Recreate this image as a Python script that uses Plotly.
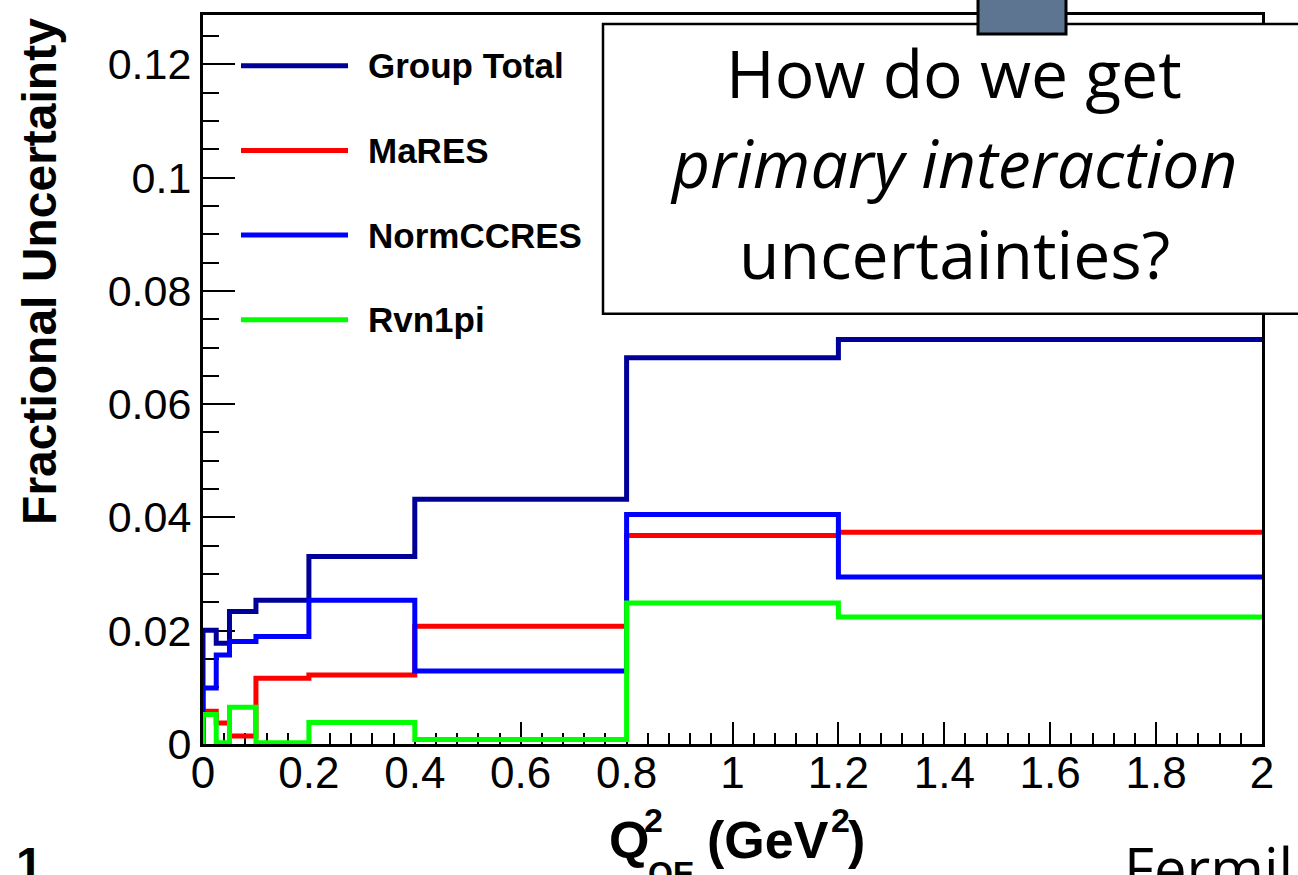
import plotly.graph_objects as go

# ---------------- data ----------------
bin_edges = [0.0, 0.025, 0.05, 0.1, 0.2, 0.4, 0.8, 1.2, 2.0]
group_total = [0.0201, 0.0178, 0.0234, 0.0254, 0.0331, 0.0432, 0.0682, 0.0714]
mares = [0.0058, 0.0037, 0.0014, 0.0116, 0.0122, 0.0208, 0.0368, 0.0374]
normccres = [0.0099, 0.0157, 0.0181, 0.0190, 0.0254, 0.0129, 0.0405, 0.0295]
rvn1pi = [0.0052, 0.0002, 0.0065, 0.0002, 0.0038, 0.0008, 0.0249, 0.0224]

series_names = ["Group Total", "MaRES", "NormCCRES", "Rvn1pi"]
series_values = [group_total, mares, normccres, rvn1pi]
series_colors = ["#000099", "#ff0000", "#0000ff", "#00ff00"]

y_max = 0.1287
x_range = [0, 2]

# ---------------- layout geometry (pixels) ----------------
FIG_W, FIG_H = 1298, 875
M_L, M_R, M_T, M_B = 203, 36, 12, 131
PW = FIG_W - M_L - M_R
PH = FIG_H - M_T - M_B


def PX(x):
    return (x - M_L) / PW


def PY(y):
    return (FIG_H - M_B - y) / PH


FONT = "Liberation Sans, Arial, Helvetica, sans-serif"
SLIDE_FONT = "Open Sans, Noto Sans, sans-serif"

fig = go.Figure()


def step_xy(edges, vals):
    xs = [edges[0]] + list(edges)
    ys = [0.0] + list(vals) + [vals[-1]]
    return xs, ys


for name, vals, col in zip(series_names, series_values, series_colors):
    xs, ys = step_xy(bin_edges, vals)
    fig.add_trace(go.Scatter(x=xs, y=ys, mode="lines", line=dict(shape="hv", color=col, width=5),
                             name=name, showlegend=False, hoverinfo="skip"))

axis_common = dict(
    showline=True, linecolor="black", linewidth=3, mirror=True,
    ticks="inside", tickcolor="black", tickwidth=2,
    showgrid=False, zeroline=False, layer="below traces",
)

fig.update_layout(
    width=FIG_W, height=FIG_H,
    margin=dict(l=M_L, r=M_R, t=M_T, b=M_B, pad=0),
    paper_bgcolor="white", plot_bgcolor="white",
    showlegend=False,
    font=dict(family=FONT, color="black"),
    xaxis=dict(range=x_range, tickmode="linear", tick0=0, dtick=0.2, ticklen=22,
               ticklabelstandoff=-12,
               minor=dict(dtick=0.04, ticklen=11, ticks="inside", tickcolor="black", tickwidth=2),
               tickfont=dict(family=FONT, color="black", size=44), **axis_common),
    yaxis=dict(range=[0, y_max], tickmode="linear", tick0=0, dtick=0.02, ticklen=32,
               minor=dict(dtick=0.005, ticklen=16, ticks="inside", tickcolor="black", tickwidth=2),
               tickfont=dict(family=FONT, color="black", size=43), **axis_common),
)

shapes = []
annotations = []

# ---- legend (drawn manually, ROOT-style long line samples) ----
legend_rows_y = [63, 148, 233, 318]
for name, col, ly in zip(series_names, series_colors, legend_rows_y):
    shapes.append(dict(type="line", xref="paper", yref="paper", x0=PX(241), x1=PX(348),
                       y0=PY(ly), y1=PY(ly), line=dict(color=col, width=5), layer="above"))
    annotations.append(dict(text="<b>%s</b>" % name, xref="paper", yref="paper", x=PX(366), y=PY(ly),
                            xanchor="left", yanchor="middle", showarrow=False,
                            font=dict(family=FONT, size=35, color="black")))

# ---- overlay box from the slide ----
shapes.append(dict(type="rect", xref="paper", yref="paper", x0=PX(603), x1=PX(1330), y0=PY(312), y1=PY(21),
                   fillcolor="white", line=dict(color="black", width=2.5), layer="above"))
shapes.append(dict(type="rect", xref="paper", yref="paper", x0=PX(978), x1=PX(1066), y0=PY(31), y1=PY(-5),
                   fillcolor="#5e7591", line=dict(color="black", width=3), layer="above"))

box_lines = [("How do we get", 69), ("<i>primary interaction</i>", 160), ("uncertainties?", 251)]
for txt, cy in box_lines:
    annotations.append(dict(text=txt, xref="paper", yref="paper", x=PX(954), y=PY(cy),
                            xanchor="center", yanchor="middle", showarrow=False,
                            font=dict(family=SLIDE_FONT, size=66, color="black")))

# ---- axis titles ----
annotations.append(dict(text="<b>Fractional Uncertainty</b>", xref="paper", yref="paper",
                        x=PX(40), y=PY(270), xanchor="center", yanchor="middle", textangle=-90,
                        showarrow=False, font=dict(family=FONT, size=48, color="black")))

xt_parts = [("Q", 607, 840, 52), ("2", 642, 820, 34), ("QE", 646, 874, 32),
            ("(GeV", 705, 840, 52), ("2", 829, 820, 34), (")", 846, 840, 52)]
for txt, lx, cy, fs in xt_parts:
    annotations.append(dict(text="<b>%s</b>" % txt, xref="paper", yref="paper", x=PX(lx), y=PY(cy),
                            xanchor="left", yanchor="middle", showarrow=False,
                            font=dict(family=FONT, size=fs, color="black")))

# ---- slide remnants at the bottom ----
annotations.append(dict(text="<b>1</b>", xref="paper", yref="paper", x=PX(14), y=PY(836),
                        xanchor="left", yanchor="top", showarrow=False,
                        font=dict(family=FONT, size=48, color="black")))
annotations.append(dict(text="Fermilab", xref="paper", yref="paper", x=PX(1122), y=PY(826),
                        xanchor="left", yanchor="top", showarrow=False,
                        font=dict(family=SLIDE_FONT, size=58, color="black")))

fig.update_layout(shapes=shapes, annotations=annotations)

fig.write_html("out.html")
